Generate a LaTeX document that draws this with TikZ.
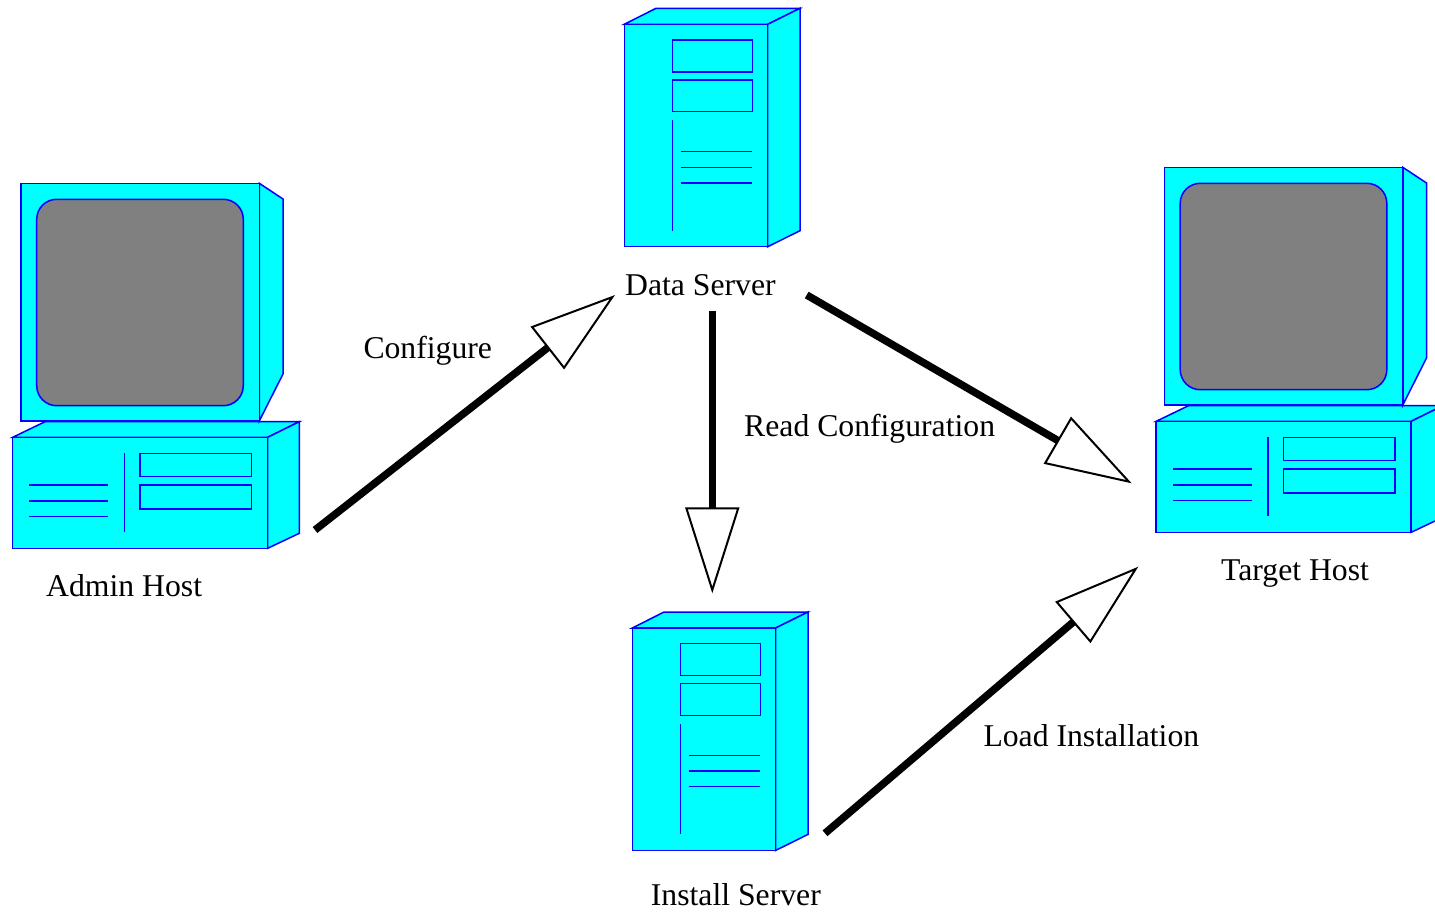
\documentclass[tikz,border=0pt]{standalone}
\usepackage{fontspec}
\setmainfont{Liberation Serif}
\usetikzlibrary{arrows.meta}
\definecolor{devfill}{RGB}{0,255,255}
\definecolor{devline}{RGB}{0,0,255}
\definecolor{screengray}{RGB}{128,128,128}
\tikzset{
  dev/.style={fill=devfill,draw=devline,line width=1.5pt,line join=miter},
  devln/.style={draw=devline,line width=1.5pt},
  scr/.style={fill=screengray,draw=devline,line width=1.5pt,rounded corners=20pt},
  lbl/.style={font=\fontsize{31.7}{38}\selectfont,inner sep=0pt,anchor=base west},
  conn/.style={line width=7.5pt,draw=black,
    -{Triangle[length=86pt,width=54pt,line width=2pt,fill=white]}},
}
\newcommand{\pcdevice}{%
  % base
  \filldraw[dev] (12.7,437.3) -- (45,421.7) -- (299.3,421.7) -- (267.7,437.3) -- cycle;
  \filldraw[dev] (267.7,437.3) -- (299.3,421.7) -- (299.3,533.3) -- (267.7,548.3) -- cycle;
  \filldraw[dev] (12.7,437.3) rectangle (267.7,548.3);
  \draw[devln] (124.3,453.3) -- (124.3,532.3);
  \draw[devln] (140,453.3) rectangle (251.7,476.7);
  \draw[devln] (140,485) rectangle (251.7,509);
  \draw[devln] (29.3,485) -- (108.3,485);
  \draw[devln] (29.3,501) -- (108.3,501);
  \draw[devln] (29.3,516.7) -- (108.3,516.7);
  % monitor
  \filldraw[dev] (259.3,183.3) -- (283,199) -- (283,374) -- (259.3,421) -- cycle;
  \filldraw[dev] (21,183.3) rectangle (259.3,421);
  \filldraw[scr] (36.7,199.3) rectangle (243.3,405.7);
}
\newcommand{\srvdevice}{%
  \filldraw[dev] (624.3,24.3) -- (656,8.3) -- (800,8.3) -- (767.7,24.3) -- cycle;
  \filldraw[dev] (767.7,24.3) -- (800,8.3) -- (800,230.7) -- (767.7,246.7) -- cycle;
  \filldraw[dev] (624.3,24.3) rectangle (767.7,246.7);
  \draw[devln] (672.3,40) rectangle (752.3,72);
  \draw[devln] (672.3,80) rectangle (752.3,111.7);
  \draw[devln] (672.3,120) -- (672.3,230.7);
  \draw[devln] (680.7,151.7) -- (752.3,151.7);
  \draw[devln] (680.7,167.3) -- (752.3,167.3);
  \draw[devln] (680.7,183) -- (752.3,183);
}
\begin{document}
\begin{tikzpicture}[x=1pt,y=-1pt]
  \fill[white] (0,0) rectangle (1435,912);
  \useasboundingbox (0,0) rectangle (1435,912);
  % devices
  \begin{scope}\pcdevice\end{scope}
  \begin{scope}[shift={(1143.5,-16)}]\pcdevice\end{scope}
  \begin{scope}\srvdevice\end{scope}
  \begin{scope}[shift={(8,603.7)}]\srvdevice\end{scope}
  % labels
  \node[lbl] (admin) at (46,596) {Admin Host};
  \node[lbl] (data) at (625,295) {Data Server};
  \node[lbl] (install) at (650.7,905.3) {Install Server};
  \node[lbl] (target) at (1221,580) {Target Host};
  \node[lbl] (lcfg) at (363.3,358.3) {Configure};
  \node[lbl] (lread) at (744,436.7) {Read Configuration};
  \node[lbl] (lload) at (983.3,746.7) {Load Installation};
  % connector end points
  \coordinate (cfgS) at (315,530);
  \coordinate (cfgT) at (615,295);
  \coordinate (rdS) at (712.3,310.7);
  \coordinate (rdT) at (712.3,593.3);
  \coordinate (rtS) at (806.7,295);
  \coordinate (rtT) at (1131.7,483.3);
  \coordinate (ldS) at (825,833.3);
  \coordinate (ldT) at (1138.3,566.7);
  \draw[conn] (cfgS) -- (cfgT);
  \draw[conn] (rdS) -- (rdT);
  \draw[conn] (rtS) -- (rtT);
  \draw[conn] (ldS) -- (ldT);
\end{tikzpicture}
\end{document}
